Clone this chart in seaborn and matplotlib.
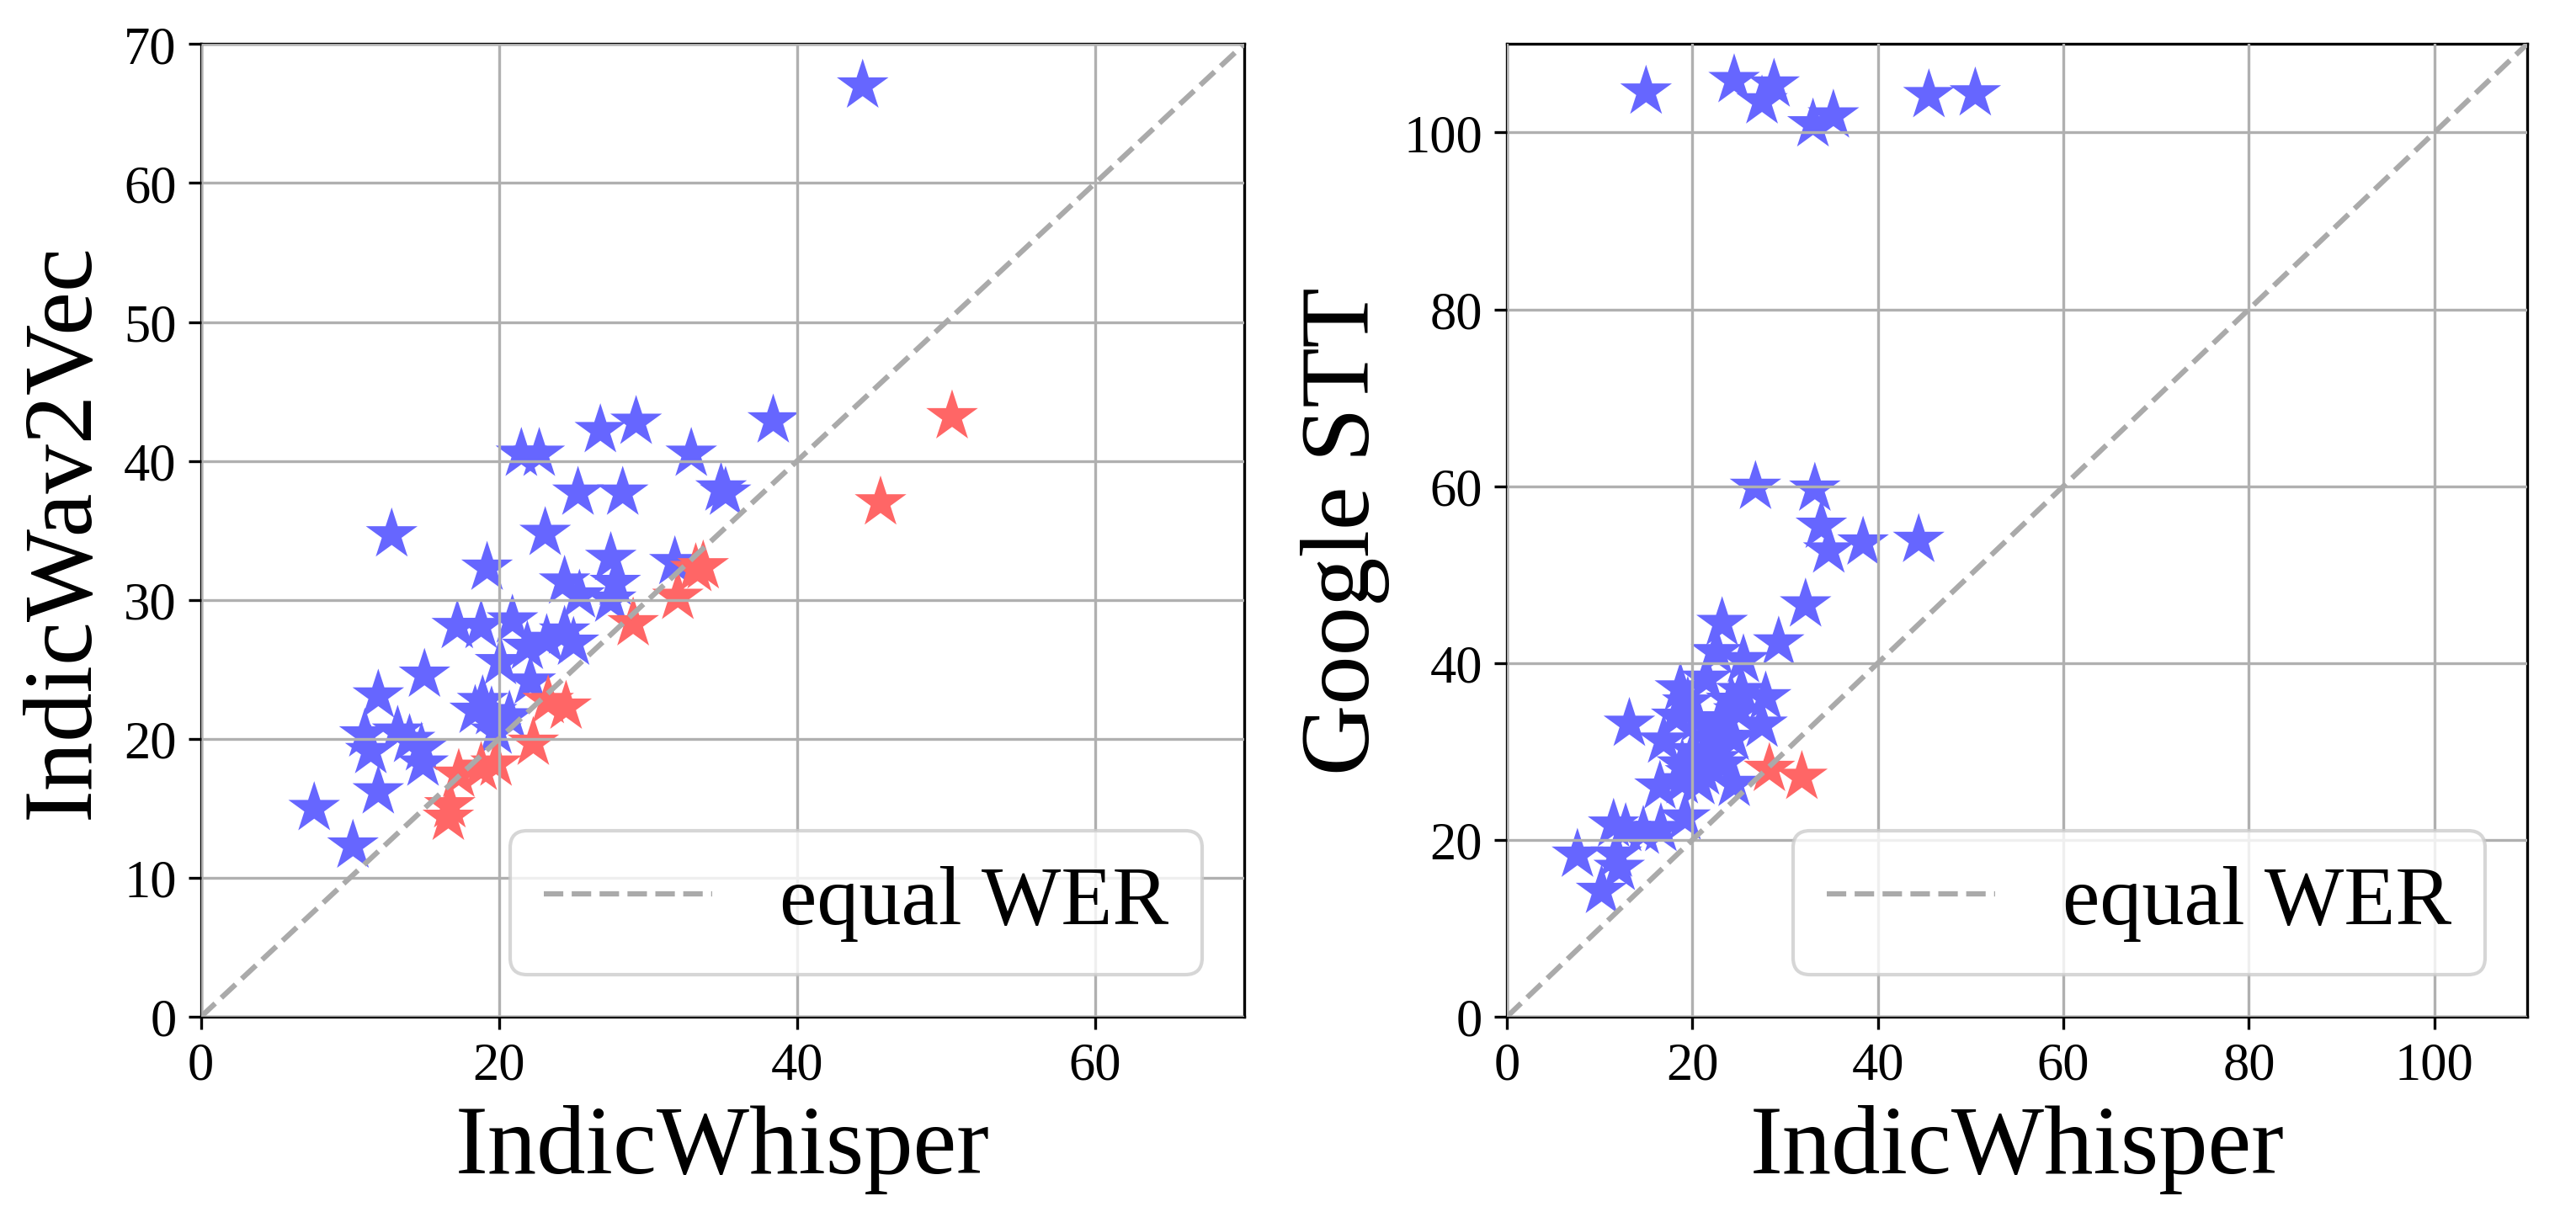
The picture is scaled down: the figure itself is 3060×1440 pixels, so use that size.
import matplotlib
matplotlib.use("Agg")
import matplotlib.pyplot as plt
import pandas as pd
import seaborn as sns

# WER per language/dataset
# left: IndicWhisper vs IndicWav2Vec
wav_blue_x = [44.4, 38.4, 29.2, 26.8, 21.5, 22.7, 32.9, 25.3, 28.3, 34.9, 35.2,
              12.8, 23.1, 27.5, 31.8, 19.2, 24.4, 27.8, 25.4, 27.5, 17.2, 18.8,
              20.9, 24.4, 23.2, 25.0, 21.9, 20.1, 15.0, 22.1, 11.9, 18.9, 18.4,
              19.5, 20.7, 19.8, 11.0, 13.2, 14.0, 11.4, 14.8, 14.9, 11.9, 7.6, 10.2]
wav_blue_y = [67.0, 42.9, 42.8, 42.2, 40.5, 40.5, 40.5, 37.7, 37.7, 38.0, 37.7,
              34.7, 34.8, 33.0, 32.7, 32.3, 31.3, 31.2, 30.3, 30.0, 28.1, 28.1,
              28.5, 27.7, 27.1, 26.9, 26.6, 25.5, 24.6, 24.1, 23.1, 22.7, 22.0,
              21.9, 21.6, 20.5, 20.3, 20.5, 19.9, 19.1, 19.3, 18.2, 16.2, 15.0, 12.3]
wav_red_x = [50.4, 45.6, 33.7, 33.2, 32.0, 29.0, 23.3, 24.5, 22.3, 19.8, 18.8,
             17.3, 16.7, 16.6]
wav_red_y = [43.2, 37.0, 32.4, 32.2, 30.2, 28.3, 22.7, 22.3, 19.7, 18.2, 17.9,
             17.4, 15.2, 14.3]

# right: IndicWhisper vs Google STT
stt_blue_x = [15.0, 24.5, 27.5, 28.8, 33.0, 35.2, 45.5, 50.5,
              26.8, 33.2, 33.9, 34.7, 38.4, 44.4,
              32.2, 23.2, 29.3, 22.6, 25.5, 21.5, 18.7, 27.9, 25.3, 24.2,
              13.2, 18.3, 16.9, 20.5, 23.0, 27.5, 21.8, 18.9, 22.4, 21.2,
              16.5, 24.5, 18.9, 19.2, 11.5, 12.8, 14.7, 16.6, 7.6, 11.8,
              12.1, 10.2, 20.1, 21.9, 22.7, 19.8, 20.7, 23.3, 24.4, 25.0, 19.5]
stt_blue_y = [104.6, 105.9, 103.5, 105.4, 100.9, 101.9, 104.2, 104.4,
              59.9, 59.7, 55.5, 52.7, 53.6, 53.9,
              46.6, 44.5, 42.3, 41.2, 40.3, 38.2, 37.1, 36.1, 36.8, 35.7,
              33.1, 33.9, 31.2, 33.6, 33.6, 33.0, 31.4, 28.5, 29.1, 27.6,
              26.0, 26.3, 26.6, 22.5, 21.7, 21.2, 20.9, 21.2, 18.3, 18.3,
              16.8, 14.2, 30.0, 29.5, 31.5, 27.5, 26.5, 28.5, 31.5, 34.5, 35.5]
stt_red_x = [28.3, 31.8]
stt_red_y = [28.0, 27.1]

panels = [
    ("IndicWav2Vec", wav_blue_x, wav_blue_y, wav_red_x, wav_red_y, 70,
     [0, 20, 40, 60], list(range(0, 71, 10))),
    ("Google STT", stt_blue_x, stt_blue_y, stt_red_x, stt_red_y, 110,
     list(range(0, 101, 20)), list(range(0, 101, 20))),
]

plt.rcParams["font.family"] = ["Liberation Serif", "DejaVu Serif"]

fig = plt.figure(figsize=(10.2, 4.803), dpi=300)
ax_boxes = [[0.078, 0.161, 0.405, 0.802], [0.585, 0.161, 0.396, 0.802]]

palette = {"better": "#6666ff", "worse": "#ff6666"}

for box, (ylab, bx, by, rx, ry, lim, xt, yt) in zip(ax_boxes, panels):
    ax = fig.add_axes(box)
    df = pd.DataFrame({
        "whisper": bx + rx,
        "other": by + ry,
        "group": ["better"] * len(bx) + ["worse"] * len(rx),
    })
    sns.scatterplot(data=df, x="whisper", y="other", hue="group",
                    palette=palette, marker="*", s=240, linewidth=0,
                    legend=False, ax=ax, zorder=2)
    ax.plot([0, lim], [0, lim], "--", color="#aaaaaa", lw=1.5,
            label="equal WER", zorder=4)
    ax.set_xlim(0, lim)
    ax.set_ylim(0, lim)
    ax.set_xticks(xt)
    ax.set_yticks(yt)
    ax.grid(True, color="#b0b0b0", lw=0.8, zorder=3)
    ax.set_axisbelow(False)
    ax.tick_params(labelsize=15)
    ax.set_xlabel("IndicWhisper", fontsize=28)
    ax.set_ylabel(ylab, fontsize=28)
    ax.legend(loc="lower right", fontsize=24)

fig.savefig("out.png", dpi=300)
